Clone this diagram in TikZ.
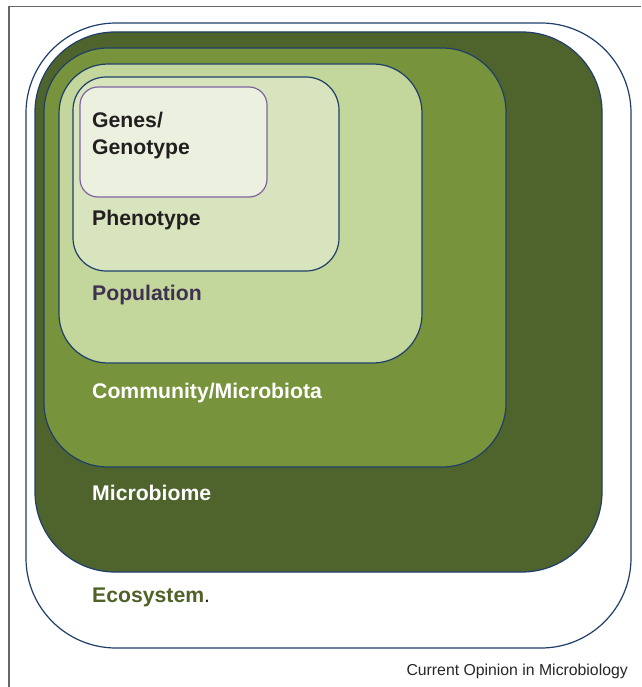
\documentclass[tikz,border=0pt]{standalone}
\usepackage{fontspec}
\setmainfont{Liberation Sans}

\definecolor{rimline}{HTML}{1F3F6A}
\definecolor{biomefill}{HTML}{4F632D}
\definecolor{commfill}{HTML}{77933C}
\definecolor{popfill}{HTML}{C3D69B}
\definecolor{phenofill}{HTML}{D7E4BD}
\definecolor{genefill}{HTML}{EBF1DE}
\definecolor{geneline}{HTML}{8064A2}
\definecolor{poptext}{HTML}{3F3151}
\definecolor{ecotext}{HTML}{4F6228}
\definecolor{inktext}{HTML}{231F20}

\begin{document}
\begin{tikzpicture}[
  x=1pt,y=-1pt,
  layer/.style={draw=rimline,line width=1.2pt},
  level/.style={anchor=base west,inner sep=0pt,font=\fontsize{21.2}{25}\selectfont\bfseries}
]
\useasboundingbox (0,0) rectangle (641,687);
% page frame (only top and left edges)
\draw[black!60,line width=1.5pt] (9,687) -- (9,6.5) -- (641,6.5);

% nested levels, outermost first
\draw[layer,fill=white,rounded corners=90pt] (26,23) rectangle (631,648);
\draw[layer,fill=biomefill,rounded corners=80pt] (35,32) rectangle (602,572);
\draw[layer,fill=commfill,rounded corners=64pt] (44,48) rectangle (506,467);
\draw[layer,fill=popfill,rounded corners=49pt] (59,64) rectangle (422,363);
\draw[layer,fill=phenofill,rounded corners=33pt] (73,77) rectangle (339,271);
\draw[draw=geneline,line width=1.2pt,fill=genefill,rounded corners=18pt] (80,87) rectangle (267,197);

\node[level,text=inktext] (genes) at (92,128) {Genes/};
\node[level,text=inktext] (genotype) at (92,154) {Genotype};
\node[level,text=inktext] (pheno) at (92,225) {Phenotype};
\node[level,text=poptext] (pop) at (92,300) {Population};
\node[level,text=white] (comm) at (92,398) {Community/Microbiota};
\node[level,text=white] (biome) at (92,500) {Microbiome};
\node[level,text=ecotext] (eco) at (92,602) {Ecosystem\textcolor{inktext}{\mdseries.}};

\node[anchor=base east,inner sep=0pt,font=\fontsize{15.8}{18}\selectfont,text=black!85] (journal) at (628,675) {Current Opinion in Microbiology};
\end{tikzpicture}
\end{document}
